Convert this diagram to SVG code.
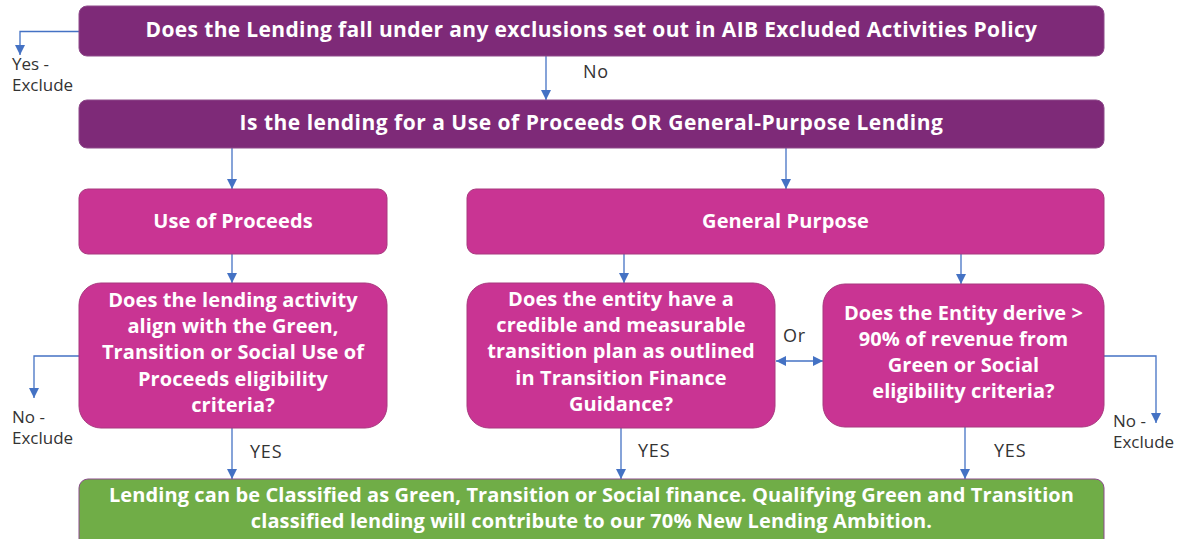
<svg xmlns="http://www.w3.org/2000/svg" width="1179" height="539" viewBox="0 0 1179 539">
<defs>
<style>
.dark{fill:#7e2a78;stroke:#8e4a8a;stroke-width:1}
.mag{fill:#c93493;stroke:#a8387e;stroke-width:1}
.grn{fill:#70ad47;stroke:#8a4a8a;stroke-width:1}
.t{font-family:"Open Sans","Liberation Sans",sans-serif;font-weight:700;font-size:20px;letter-spacing:0.1px;fill:#ffffff;text-anchor:middle}
.h1{font-size:21px;letter-spacing:0.35px}
.h2{font-size:21px;letter-spacing:0.5px}
.l{font-family:"Open Sans","Liberation Sans",sans-serif;font-size:17px;fill:#333333}
.y{font-size:18px;letter-spacing:0.8px}
.c{fill:none;stroke:#4472c4;stroke-width:1.3}
</style>
<marker id="ah" viewBox="0 0 10 10" refX="10" refY="5" markerWidth="10" markerHeight="10" markerUnits="userSpaceOnUse" orient="auto-start-reverse">
<path d="M0,0 L10,5 L0,10 z" fill="#4472c4"/>
</marker>
</defs>
<rect width="1179" height="539" fill="#ffffff"/>
<g id="connectors">
<path class="c" d="M79,31.5 H20 V55" marker-end="url(#ah)"/>
<path class="c" d="M546,56 V100" marker-end="url(#ah)"/>
<path class="c" d="M232,148 V189" marker-end="url(#ah)"/>
<path class="c" d="M786,148 V189" marker-end="url(#ah)"/>
<path class="c" d="M232,254 V283" marker-end="url(#ah)"/>
<path class="c" d="M624,254 V283" marker-end="url(#ah)"/>
<path class="c" d="M961,254 V284" marker-end="url(#ah)"/>
<path class="c" d="M79,356 H34 V398" marker-end="url(#ah)"/>
<path class="c" d="M1104,356 H1156 V423" marker-end="url(#ah)"/>
<path class="c" d="M776,361 H823" marker-start="url(#ah)" marker-end="url(#ah)"/>
<path class="c" d="M232,428 V479" marker-end="url(#ah)"/>
<path class="c" d="M621,428 V479" marker-end="url(#ah)"/>
<path class="c" d="M965,427 V479" marker-end="url(#ah)"/>
<text class="l" x="12" y="70">Yes -</text>
<text class="l" x="12" y="91">Exclude</text>
<text class="l y" x="583" y="78">No</text>
<text class="l" x="12" y="423">No -</text>
<text class="l" x="12" y="444">Exclude</text>
<text class="l" x="1113" y="427">No -</text>
<text class="l" x="1113" y="448">Exclude</text>
<text class="l y" x="783" y="342">Or</text>
<text class="l y" x="250" y="458">YES</text>
<text class="l y" x="638" y="457">YES</text>
<text class="l y" x="994" y="457">YES</text>
</g>
<g id="exclusions">
<rect class="dark" x="79" y="6" width="1025" height="50" rx="8"/>
<text class="t h1" x="591.5" y="37">Does the Lending fall under any exclusions set out in AIB Excluded Activities Policy</text>
</g>
<g id="lending-type">
<rect class="dark" x="79" y="100" width="1025" height="48" rx="8"/>
<text class="t h2" x="591.5" y="130">Is the lending for a Use of Proceeds OR General-Purpose Lending</text>
</g>
<g id="use-of-proceeds">
<rect class="mag" x="79" y="189" width="308" height="65" rx="9"/>
<text class="t" x="233" y="228">Use of Proceeds</text>
</g>
<g id="general-purpose">
<rect class="mag" x="467" y="189" width="637" height="65" rx="9"/>
<text class="t" x="785.5" y="228">General Purpose</text>
</g>
<g id="q-uop">
<rect class="mag" x="79" y="283" width="308" height="145" rx="22"/>
<text class="t" x="233" y="307">Does the lending activity</text>
<text class="t" x="233" y="333">align with the Green,</text>
<text class="t" x="233" y="359">Transition or Social Use of</text>
<text class="t" x="233" y="386">Proceeds eligibility</text>
<text class="t" x="233" y="412">criteria?</text>
</g>
<g id="q-transition">
<rect class="mag" x="467" y="283" width="308" height="145" rx="22"/>
<text class="t" x="621" y="306">Does the entity have a</text>
<text class="t" x="621" y="332">credible and measurable</text>
<text class="t" x="621" y="358">transition plan as outlined</text>
<text class="t" x="621" y="385">in Transition Finance</text>
<text class="t" x="621" y="411">Guidance?</text>
</g>
<g id="q-revenue">
<rect class="mag" x="823" y="284" width="281" height="143" rx="22"/>
<text class="t" x="963.5" y="320">Does the Entity derive &gt;</text>
<text class="t" x="963.5" y="346">90% of revenue from</text>
<text class="t" x="963.5" y="372">Green or Social</text>
<text class="t" x="963.5" y="398">eligibility criteria?</text>
</g>
<g id="outcome">
<rect class="grn" x="79" y="479" width="1025" height="70" rx="9"/>
<text class="t" x="591.5" y="502">Lending can be Classified as Green, Transition or Social finance. Qualifying Green and Transition</text>
<text class="t" x="591.5" y="528">classified lending will contribute to our 70% New Lending Ambition.</text>
</g>
</svg>
